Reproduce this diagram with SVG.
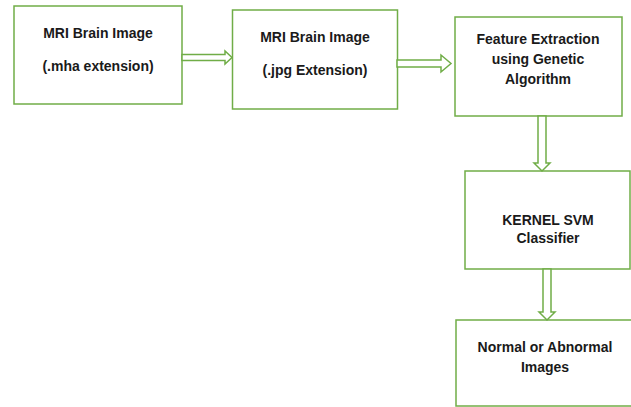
<svg xmlns="http://www.w3.org/2000/svg" width="631" height="407" viewBox="0 0 631 407">
<style>
.box{fill:#fff;stroke:#70AD47;stroke-width:1.5}
.arr{fill:#fff;stroke:#70AD47;stroke-width:1.5;stroke-linejoin:miter}
text{font-family:"Liberation Sans",Arial,sans-serif;font-weight:bold;font-size:14px;fill:#1a1a1a;text-anchor:middle}
</style>
<rect width="631" height="407" fill="#fff"/>
<g id="n1"><rect class="box" x="14" y="6" width="168" height="98"/><text x="98" y="38">MRI Brain Image</text><text x="98" y="71">(.mha extension)</text></g>
<g id="n2"><rect class="box" x="232.5" y="10" width="165" height="99"/><text x="315" y="42">MRI Brain Image</text><text x="315" y="75">(.jpg Extension)</text></g>
<g id="n3"><rect class="box" x="455" y="17" width="167" height="99"/><text x="538" y="44">Feature Extraction</text><text x="538" y="64">using Genetic</text><text x="538" y="84">Algorithm</text></g>
<g id="n4"><rect class="box" x="465" y="171" width="165" height="98"/><text x="548" y="225">KERNEL SVM</text><text x="548" y="243">Classifier</text></g>
<g id="n5"><rect class="box" x="456" y="320" width="178" height="86"/><text x="545" y="352">Normal or Abnormal</text><text x="545" y="372">Images</text></g>
<g id="connectors">
<polygon class="arr" points="182,54.5 225,54.5 225,51 232,57.5 225,64 225,60.5 182,60.5"/>
<polygon class="arr" points="397,60 441,60 441,55 451,63.5 441,72 441,67 397,67"/>
<polygon class="arr" points="538,116 546,116 546,163 550,163 542,171 534,163 538,163"/>
<polygon class="arr" points="543,269 551,269 551,312 555,312 547,320 539,312 543,312"/>
</g>
</svg>
